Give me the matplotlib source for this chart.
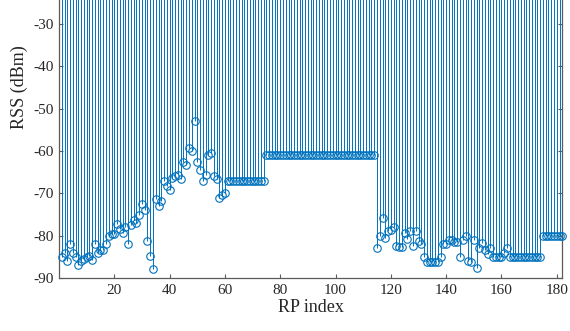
import numpy as np
import matplotlib
matplotlib.use("Agg")
import matplotlib.pyplot as plt

plt.rcParams['font.family'] = ['Liberation Serif', 'DejaVu Serif']

# RSS values (dBm) for RP index 1..182
rss_1_60 = [-85, -84, -86, -82, -84, -85, -87, -86, -85.5, -85,
            -84.7, -85.7, -82, -84, -83.5, -83.4, -82, -80, -79.5, -79.7,
            -77.3, -78.4, -79.4, -78, -82, -77.5, -76.3, -77, -75, -72.5,
            -74, -81.2, -84.7, -87.9, -71.3, -73.1, -71.8, -67.1, -68.2, -69.2,
            -66.3, -66, -65.6, -66.7, -62.5, -63.3, -59.2, -59.9, -53, -62.6,
            -64.6, -67.2, -65.6, -60.9, -60.5, -66, -66.6, -71.2, -70.4, -70]
rss_61_74 = [-67] * 14
rss_75_114 = [-61] * 40
rss_115_182 = [-83, -80.1, -75.9, -80.5, -78.8, -78.7, -77.9, -82.4, -82.7, -82.7,
               -79.3, -80.8, -78.8, -82.4, -78.8, -81.3, -82, -85, -86.2, -86.2,
               -86.2, -86.2, -86.2, -85, -82, -82, -81, -81, -81.5, -81.4,
               -85, -81, -80.1, -86, -86.2, -81, -87.6, -83, -81.8, -83.4,
               -84.3, -83, -85, -85, -85, -85, -84, -83,
               -85, -85, -85, -85, -85, -85, -85, -85, -85, -85, -85, -85,
               -80, -80, -80, -80, -80, -80, -80, -80]
rss = rss_1_60 + rss_61_74 + rss_75_114 + rss_115_182
rp_index = np.arange(1, len(rss) + 1)

xticks = [20, 40, 60, 80, 100, 120, 140, 160, 180]
yticks = [-90, -80, -70, -60, -50, -40, -30]

W, H = 570, 331
fig = plt.figure(figsize=(W / 100, H / 100), dpi=100)
left, right = 59 / W, 562.3 / W
bottom = (H - 278) / H
top = (H + 103) / H
ax = fig.add_axes([left, bottom, right - left, top - bottom])

color = '#0072BD'
ml, sl, bl = ax.stem(rp_index, rss, bottom=0, basefmt=' ')
plt.setp(sl, color=color, linewidth=0.7, zorder=3)
plt.setp(ml, color=color, marker='o', markersize=5.4, markerfacecolor='none',
         markeredgecolor=color, markeredgewidth=0.8, zorder=4, clip_on=False)

ax.set_xlim(0, 182)
ax.set_ylim(-90, 0)
ax.set_xticks(xticks)
ax.set_yticks(yticks)
ax.set_xticklabels([str(t) for t in xticks])
ax.set_yticklabels([str(t) for t in yticks])

spine_col = '#5a5a5a'
for s in ax.spines.values():
    s.set_color(spine_col)
    s.set_linewidth(0.9)
    s.set_zorder(1)
ax.tick_params(direction='in', length=3, width=0.8, colors=spine_col,
               labelcolor='#262626', labelsize=11, top=True, right=True, pad=4)
ax.set_axisbelow(True)

ax.set_xlabel('RP index', fontsize=13, color='#262626', labelpad=2)
ax.set_ylabel('RSS (dBm)', fontsize=13, color='#262626', labelpad=4)

fig.savefig('out.png', dpi=100)
